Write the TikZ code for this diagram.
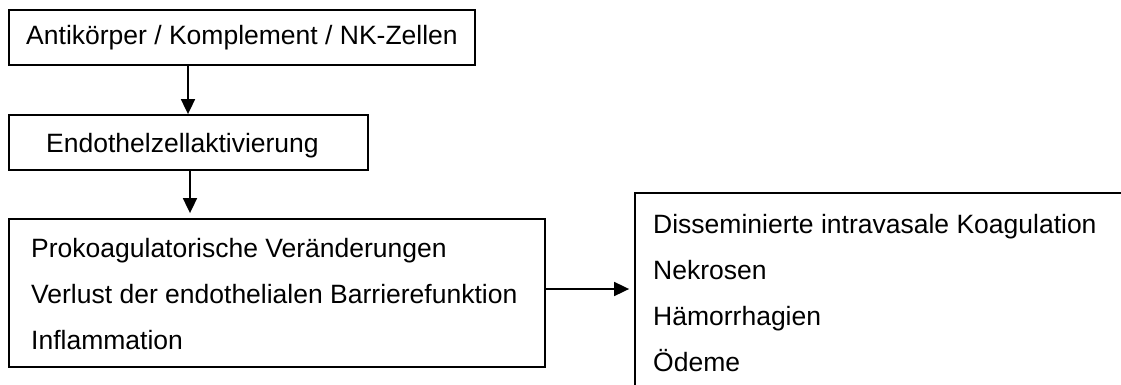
\documentclass[tikz,border=0pt]{standalone}
\usepackage{fontspec}
\setmainfont{Liberation Sans}
\usetikzlibrary{arrows.meta}
\tikzset{
  box/.style={draw, line width=1.8pt, rectangle, inner sep=0pt, font=\fontsize{26.5}{32}\selectfont},
  txt/.style={inner sep=0pt, anchor=base west, font=\fontsize{26.5}{32}\selectfont},
  arr/.style={line width=1.8pt, -{Triangle[length=15pt,width=14pt]}}
}
\begin{document}
\begin{tikzpicture}[x=1pt,y=-1pt]
\clip (0,0) rectangle (1121,385);
\fill[white] (0,0) rectangle (1121,385);
% boxes
\node[box, minimum width=466pt, minimum height=55pt] (b1) at (242,37.5) {Antikörper / Komplement / NK-Zellen};
\node[box, minimum width=359pt, minimum height=55pt] (b2) at (188.5,142.5) {};
\node[box, minimum width=536pt, minimum height=148pt] (b3) at (277,293) {};
\node[box, minimum width=500pt, minimum height=220pt] (b4) at (885,303) {};
% texts
\node[txt] (t0) at (46,152) {Endothelzellaktivierung};
\node[txt] (t1) at (31,257) {Prokoagulatorische Veränderungen};
\node[txt] (t2) at (31,303) {Verlust der endothelialen Barrierefunktion};
\node[txt] (t3) at (31,349) {Inflammation};
\node[txt] (r1) at (653,233) {Disseminierte intravasale Koagulation};
\node[txt] (r2) at (653,279) {Nekrosen};
\node[txt] (r3) at (653,325) {Hämorrhagien};
\node[txt] (r4) at (653,371) {Ödeme};
% connectors
\coordinate (a1) at (188,0);
\coordinate (a2) at (190,0);
\coordinate (a3) at (0,289);
\draw[arr] (a1 |- b1.south) -- (a1 |- b2.north);
\draw[arr, shorten >=5pt] (a2 |- b2.south) -- (a2 |- b3.north);
\draw[arr, shorten >=5pt] (b3.east |- a3) -- (b4.west |- a3);
\end{tikzpicture}
\end{document}
